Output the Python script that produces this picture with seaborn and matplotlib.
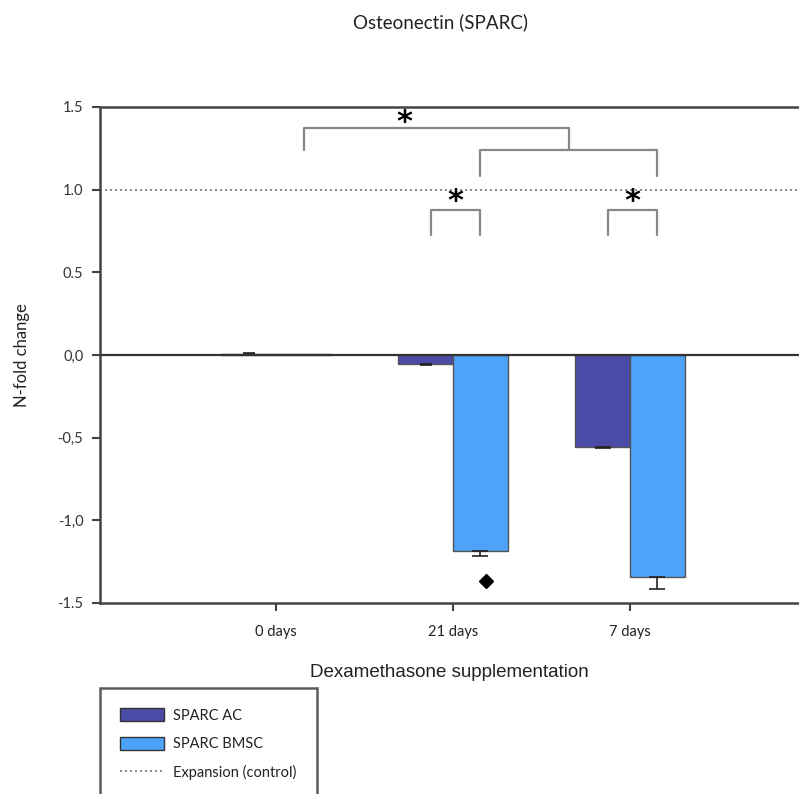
import matplotlib
matplotlib.use("Agg")
import matplotlib.pyplot as plt
import seaborn as sns
import pandas as pd
import numpy as np
from matplotlib.lines import Line2D
from matplotlib.patches import Patch

categories = ["0 days", "21 days", "7 days"]
series = ["SPARC AC", "SPARC BMSC"]
ac_values = [0.008, -0.055, -0.555]
bmsc_values = [0.004, -1.186, -1.345]
ac_err = [0.006, 0.006, 0.008]
bmsc_err = [0.0, 0.03, 0.07]
ytick_values = [1.5, 1.0, 0.5, 0.0, -0.5, -1.0, -1.5]
ytick_labels = ["1.5", "1.0", "0.5", "0,0", "-0,5", "-1,0", "-1.5"]
control_level = 1.0
diamond_value = -1.366

colors = {"SPARC AC": "#4A4BA6", "SPARC BMSC": "#4EA2F8"}

df = pd.DataFrame({
    "Condition": categories * 2,
    "Series": [series[0]] * 3 + [series[1]] * 3,
    "Value": ac_values + bmsc_values,
})

sns.set_style("white")
plt.rcParams["font.family"] = ["Lato", "DejaVu Sans"]

fig = plt.figure(figsize=(7.99, 7.94), dpi=100)
ax = fig.add_axes([100 / 799, 1 - 603 / 794, 699 / 799, 496 / 794])

sns.barplot(data=df, x="Condition", y="Value", hue="Series", order=categories,
            hue_order=series, palette=colors, saturation=1, width=0.62,
            edgecolor="#555555", linewidth=1.0, errorbar=None, legend=False, ax=ax)

# error bars (one-sided, in direction of bar)
patches = [p for p in ax.patches if p.get_width() > 0]
errs = {series[0]: ac_err, series[1]: bmsc_err}
vals = {series[0]: ac_values, series[1]: bmsc_values}
for si, s in enumerate(series):
    for ci in range(len(categories)):
        p = patches[si * len(categories) + ci]
        xc = p.get_x() + p.get_width() / 2
        v = vals[s][ci]
        e = errs[s][ci]
        if e <= 0:
            continue
        if v >= 0:
            yerr = [[0], [e]]
        else:
            yerr = [[e], [0]]
        ax.errorbar([xc], [v], yerr=yerr, fmt="none", ecolor="#222222",
                    elinewidth=1.2, capsize=6 if abs(v) > 0.5 else 4, capthick=1.2)

# zero line and control line
ax.axhline(0, color="#333333", lw=1.6, zorder=3)
ax.axhline(control_level, color="#777777", lw=1.2, ls=(0, (1.2, 1.8)), zorder=1)

# diamond marker
bx = patches[len(categories) + 1]
ax.plot([bx.get_x() + bx.get_width() * 0.6], [diamond_value], marker="D",
        color="black", markersize=7, zorder=5)

# significance brackets
def centers(si, ci):
    p = patches[si * len(categories) + ci]
    return p.get_x() + p.get_width() / 2

bc = "#888888"
blw = 1.6
# small brackets
for ci in [1, 2]:
    x1, x2 = centers(0, ci) + 0.03, centers(1, ci)
    ax.plot([x1, x1, x2, x2], [0.725, 0.875, 0.875, 0.725], color=bc, lw=blw, clip_on=False)
    ax.text((x1 + x2) / 2, 0.93, "*", ha="center", va="center", fontsize=22,
            fontweight="bold", color="black", family="DejaVu Sans")
# second-level bracket: 21 days BMSC to 7 days BMSC
xa, xb = centers(1, 1), centers(1, 2)
ax.plot([xa, xa, xb, xb], [1.085, 1.24, 1.24, 1.085], color=bc, lw=blw)
# top bracket: 0 days BMSC to middle of second bracket
x0 = centers(1, 0)
xm = (xa + xb) / 2
ax.plot([x0, x0, xm, xm], [1.24, 1.375, 1.375, 1.24], color=bc, lw=blw)
ax.text(0.723, 1.405, "*", ha="center", va="center", fontsize=22,
        fontweight="bold", color="black", family="DejaVu Sans")

ax.set_ylim(-1.5, 1.5)
ax.set_xlim(-0.995, 2.955)
ax.set_yticks(ytick_values)
ax.set_yticklabels(ytick_labels)
ax.tick_params(axis="y", direction="out", length=6, width=1.5, color="#444444",
               labelsize=10.5, labelcolor="#333333", left=True, pad=6)
ax.tick_params(axis="x", direction="out", length=6, width=1.5, color="#444444",
               labelsize=10.5, labelcolor="#222222", bottom=True, pad=10)

for side in ["left", "top", "bottom"]:
    ax.spines[side].set_visible(True)
    ax.spines[side].set_color("#444444")
    ax.spines[side].set_linewidth(1.8)
ax.spines["right"].set_visible(False)

ax.set_ylabel("N-fold change", fontsize=12, color="#222222", labelpad=20)
ax.set_xlabel("Dexamethasone supplementation", fontsize=13.5, color="#222222",
              labelpad=18, family=["Liberation Sans", "DejaVu Sans"])

fig.text(440 / 799, 1 - 22 / 794, "Osteonectin (SPARC)", ha="center", va="center",
         fontsize=13.5, color="#222222")

handles = [
    Patch(facecolor=colors[series[0]], edgecolor="#333333", label=series[0]),
    Patch(facecolor=colors[series[1]], edgecolor="#333333", label=series[1]),
    Line2D([0], [0], color="#777777", lw=1.2, ls=(0, (1.2, 1.8)), label="Expansion (control)"),
]
leg = fig.legend(handles=handles, loc="upper left",
                 bbox_to_anchor=(100 / 799, 1 - 688 / 794), frameon=True,
                 fontsize=10.5, fancybox=False, borderpad=1.4, labelspacing=0.95,
                 handlelength=3.0, handleheight=1.0, handletextpad=0.6,
                 borderaxespad=0)
leg.get_frame().set_edgecolor("#333333")
leg.get_frame().set_linewidth(1.8)
for t in leg.get_texts():
    t.set_color("#222222")

fig.savefig("out.png", dpi=100)
